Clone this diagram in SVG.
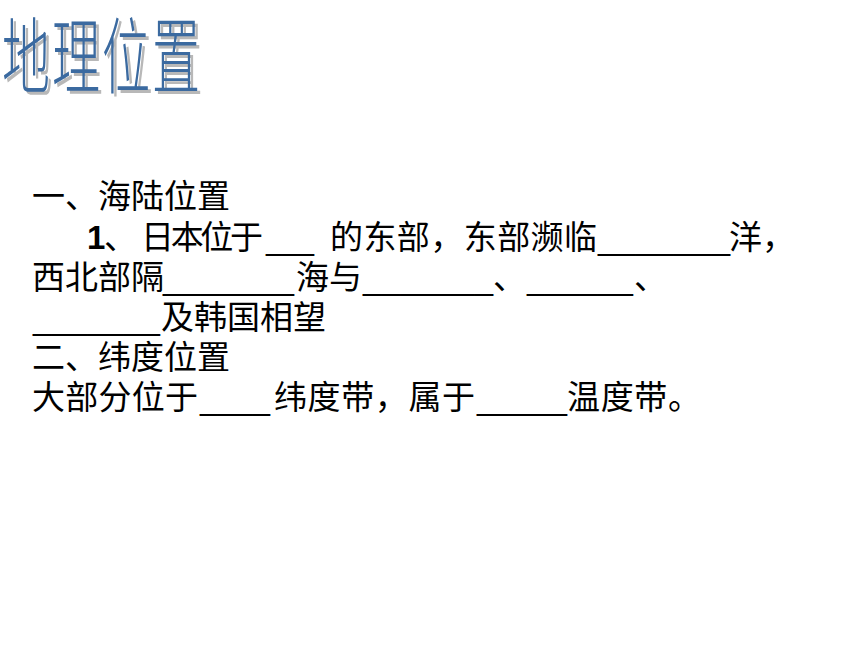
<svg xmlns="http://www.w3.org/2000/svg" width="860" height="645" viewBox="0 0 860 645">
  <style>
    .title { font-family: "Noto Sans CJK SC", "Noto Sans CJK TC", sans-serif; font-size: 48px; font-weight: 300; letter-spacing: 2px; }
    .t { font-family: "Noto Sans CJK SC", "Noto Sans CJK TC", sans-serif; font-size: 33px; fill: #000; }
    .u { font-family: "Liberation Sans", Arial, sans-serif; font-size: 33px; fill: #000; }
    .num { font-family: "Liberation Sans", Arial, sans-serif; font-size: 33px; font-weight: bold; fill: #000; }
  </style>
  <rect width="860" height="645" fill="#ffffff"/>

  <g id="title">
    <text class="title" transform="translate(5,90) scale(1,1.72)" fill="#b8b8b8">地理位置</text>
    <text class="title" transform="translate(2,87) scale(1,1.72)" fill="#3b6aa0">地理位置</text>
  </g>

  <g id="line1">
    <text class="t" x="32" y="208">一、海陆位置</text>
  </g>

  <g id="line2">
    <text class="num" x="87" y="249">1</text>
    <text class="t" x="104" y="249">、</text>
    <text class="t" x="141" y="249" textLength="122" lengthAdjust="spacing">日本位于</text>
    <text class="u" x="266" y="249" textLength="48" lengthAdjust="spacingAndGlyphs">___</text>
    <text class="t" x="330" y="249" textLength="267" lengthAdjust="spacing">的东部，东部濒临</text>
    <text class="u" x="598" y="249" textLength="132" lengthAdjust="spacingAndGlyphs">_______</text>
    <text class="t" x="729" y="249">洋，</text>
  </g>

  <g id="line3">
    <text class="t" x="32" y="289">西北部隔</text>
    <text class="u" x="163" y="289" textLength="131" lengthAdjust="spacingAndGlyphs">_______</text>
    <text class="t" x="296" y="289">海与</text>
    <text class="u" x="363" y="289" textLength="130" lengthAdjust="spacingAndGlyphs">_______</text>
    <text class="t" x="493" y="289">、</text>
    <text class="u" x="527" y="289" textLength="106" lengthAdjust="spacingAndGlyphs">______</text>
    <text class="t" x="634" y="289">、</text>
  </g>

  <g id="line4">
    <text class="u" x="33" y="329" textLength="127" lengthAdjust="spacingAndGlyphs">_______</text>
    <text class="t" x="161" y="329">及韩国相望</text>
  </g>

  <g id="line5">
    <text class="t" x="32" y="369">二、纬度位置</text>
  </g>

  <g id="line6">
    <text class="t" x="32" y="409" textLength="166" lengthAdjust="spacing">大部分位于</text>
    <text class="u" x="200" y="409" textLength="70" lengthAdjust="spacingAndGlyphs">____</text>
    <text class="t" x="274" y="409" textLength="201" lengthAdjust="spacing">纬度带，属于</text>
    <text class="u" x="477" y="409" textLength="90" lengthAdjust="spacingAndGlyphs">_____</text>
    <text class="t" x="567" y="409" textLength="134" lengthAdjust="spacing">温度带。</text>
  </g>
</svg>
